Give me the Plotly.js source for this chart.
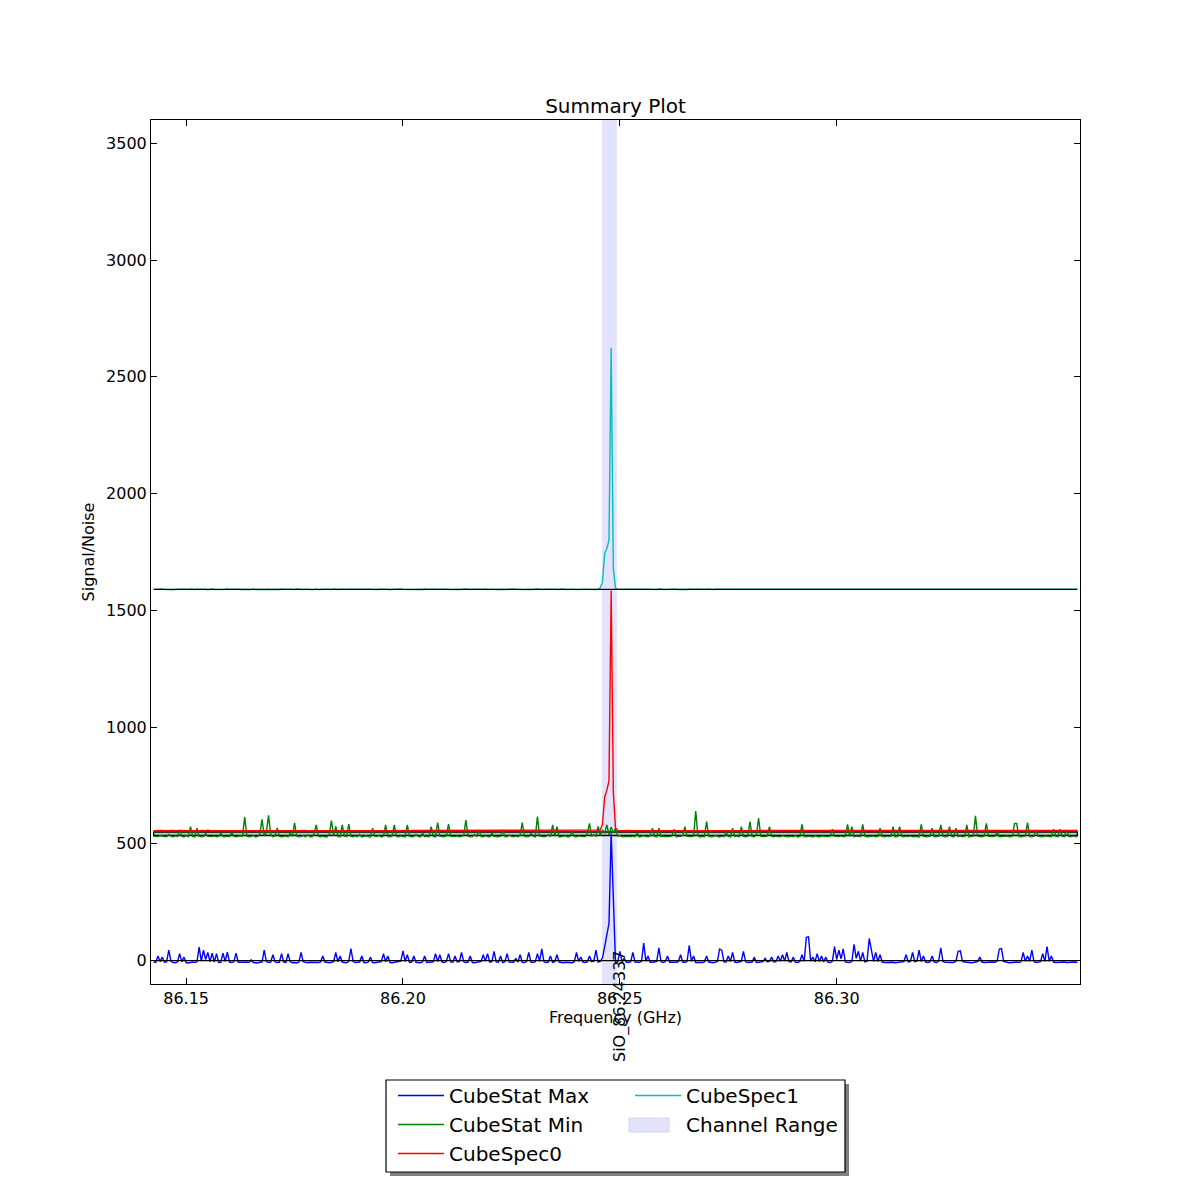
<!DOCTYPE html>
<html><head><meta charset="utf-8">
<script src="https://cdn.plot.ly/plotly-3.0.1.min.js"></script>
<style>body{margin:0;background:#fff}</style>
</head><body><div id="chart" style="width:1200px;height:1200px"></div>
<script>
// ---- data ----
const FREQ_START = 86.1425;      // GHz, first channel
const CHANNEL_WIDTH = 0.0005;    // GHz per channel
const CHANNEL_RANGE = [86.2459, 86.2493];
const LINE_LABEL = "SiO_86.24337";
const ZERO_LEVEL = 0;
const NOISE_LOW = 536;
const NOISE_HIGH = 551;
const SPEC1_LEVEL = 1590;

const CUBESTAT_MAX = [
-6,-8,20,-4,15,-7,-5,45,-3,-8,-9,-6,30,-5,15,-8,-10,-7,-6,-8,
-5,58,-2,45,5,35,-4,32,-6,30,-8,-7,32,-3,36,-6,-8,-5,32,-7,
-8,-9,-7,-6,-8,3,-8,-9,-10,-7,-6,45,-4,-8,-6,25,-5,-8,-7,30,
-6,-8,30,-5,-9,-8,-10,-6,35,-4,-8,-9,-7,-8,-6,-9,-8,-5,20,-6,
-8,-9,-7,-4,35,-5,20,-6,-8,-9,-3,52,-4,-8,-7,-6,20,-8,-9,-6,
15,-8,-9,-7,-6,-4,30,-5,20,-8,-9,-7,-8,-6,-2,42,-3,25,-8,-6,
20,-7,-8,-9,-6,20,-8,-7,-8,-5,30,-4,25,-6,-8,-4,30,-5,-7,20,
-6,-4,35,-5,-8,-6,20,-8,-9,-7,-8,-3,25,-2,30,-6,-4,40,-5,-7,
20,-8,-5,30,-6,-8,-7,10,-6,25,-7,-8,-4,35,-6,-8,-5,30,-3,50,
-5,-8,-6,20,-7,-4,25,-6,-8,-9,-7,-8,-6,-9,-5,35,-3,15,-6,-8,
-5,20,-4,-2,45,-6,-3,12,60,110,160,545,250,-5,-6,40,-4,10,-6,-8,
-5,35,-6,-8,-7,-3,75,-2,20,-7,-8,-6,-3,55,-5,-8,-4,20,-7,-8,
-9,-7,-4,25,-6,-8,-3,65,-2,20,-8,-9,-7,-8,-5,20,-6,-8,-9,-7,
-4,50,45,-5,-6,20,-4,35,-6,-8,-7,-3,40,-5,-8,-7,-6,15,-8,-7,
-6,-4,10,-5,-3,15,-6,-4,20,-3,25,-2,35,-4,-6,15,-7,-8,-4,25,
-3,100,102,-2,15,-5,30,-4,20,-6,15,-7,-8,-3,60,5,45,8,50,-5,
-7,-8,-3,70,10,40,-2,35,-5,-2,95,50,-3,35,-4,25,-6,-8,-7,-9,
-8,-7,-9,-8,-6,-8,-4,25,-5,-3,35,-4,-2,45,-4,20,-6,-8,-5,20,
-6,-8,-3,55,-4,-7,-8,-9,-7,-8,-2,40,42,-3,-6,-8,-7,-9,-8,-6,
-4,15,-6,-8,-7,-9,-8,-6,-7,-2,50,52,-3,-7,-8,-9,-7,-8,-6,-8,
-4,35,-3,20,-2,45,-5,-8,-7,-4,30,-3,60,-2,20,-6,-8,-7,-9,-8,
-6,-8,-7,-9,-8,-6,-8
];

const CUBESTAT_MIN = [
532,530,531,535,533,530,531,540,532,530,534,531,560,533,530,536,531,574,532,530,
567,533,530,531,545,532,530,531,534,530,532,545,531,530,533,531,548,532,530,531,
535,532,615,533,530,531,536,530,532,544,605,534,548,622,540,531,534,568,532,530,
531,534,530,545,532,590,533,530,531,536,530,538,531,530,545,581,532,530,533,531,
530,540,600,535,575,532,530,581,533,531,585,532,530,534,531,540,530,532,535,531,
530,567,532,531,536,530,533,581,531,530,535,581,532,530,534,531,530,581,533,530,
531,540,532,530,545,531,533,530,574,532,530,591,533,531,530,535,585,532,530,531,
534,530,532,536,602,533,530,531,540,532,560,531,530,535,531,530,546,532,531,530,
533,560,531,530,538,532,530,534,531,536,591,532,530,531,545,533,530,617,534,531,
530,532,540,531,581,533,574,530,532,531,535,530,532,553,531,530,534,532,530,531,
545,588,532,540,533,575,536,560,545,581,540,572,548,565,533,536,530,531,534,532,
530,533,531,545,530,532,535,531,530,534,567,532,530,567,531,533,530,532,531,534,
563,531,530,532,536,574,532,530,531,533,641,535,530,532,531,595,533,530,531,536,
532,530,533,531,553,532,530,567,531,534,530,574,532,530,533,595,531,530,540,610,
532,530,531,534,574,532,530,533,531,530,535,532,531,530,533,531,536,530,532,584,
531,530,533,532,530,535,531,530,534,532,530,531,533,563,532,530,531,534,530,532,
584,531,574,530,533,532,531,584,533,530,532,531,534,530,532,567,531,530,533,531,
532,574,530,531,574,532,530,533,531,534,530,532,531,530,584,532,531,530,533,567,
531,530,532,581,533,530,531,574,532,530,567,531,534,530,532,581,530,531,533,620,
532,531,530,534,588,532,530,531,533,553,531,530,532,534,531,530,533,588,588,531,
530,532,534,591,531,530,533,560,532,531,530,534,532,530,531,563,533,530,563,532,
531,560,532,530,534,531,530
];

const CUBESPEC0 = [
557,558,556,557,558,557,556,557,558,557,556,557,558,557,556,558,557,557,556,558,
557,556,558,557,557,559,557,556,557,558,557,556,557,558,557,557,556,558,557,556,
558,557,556,557,558,557,557,556,558,557,556,557,559,557,556,557,558,557,556,557,
557,558,557,556,557,558,557,556,557,557,558,556,557,558,557,556,557,558,557,557,
556,557,558,557,556,557,558,557,557,556,558,557,556,557,558,557,556,557,558,557,
557,556,557,558,557,556,558,557,557,556,557,558,557,556,557,558,557,556,557,558,
558,557,556,557,557,558,556,557,558,557,556,557,558,557,557,556,558,557,556,557,
557,558,557,556,557,558,557,557,556,558,557,556,557,558,557,556,557,557,558,556,
557,556,558,557,556,557,558,557,556,557,558,557,557,556,558,557,556,557,558,557,
556,557,558,557,557,556,558,557,556,557,558,557,556,557,558,557,557,556,558,557,
557,556,558,557,558,557,559,585,700,730,770,1585,720,568,558,557,556,557,558,557,
557,558,556,557,558,557,556,557,558,557,556,557,558,557,556,558,557,557,556,558,
556,557,558,557,556,557,558,557,557,556,558,557,556,557,558,557,556,557,558,557,
557,556,557,558,557,556,558,557,557,556,557,558,557,556,557,558,557,556,557,558,
558,557,556,557,557,558,556,557,558,557,556,557,558,557,557,556,558,557,556,557,
557,558,557,556,557,558,557,557,556,558,557,556,557,558,557,556,557,557,558,556,
557,556,558,557,556,557,558,557,556,557,558,557,557,556,558,557,556,557,558,557,
556,557,558,557,557,556,558,557,556,557,558,557,556,557,558,557,557,556,558,557,
557,558,556,557,558,557,556,557,558,557,556,557,558,557,556,558,557,557,556,558,
557,556,558,557,557,559,557,556,557,558,557,556,557,558,557,557,556,558,557,556,
558,557,556,557,558,557,557,556,558,557,556,557,559,557,556,557,558,557,556,557,
557,556,558,557,556,557,558
];

const CUBESPEC1 = [
1590,1591,1589,1590,1592,1590,1589,1591,1590,1588,1590,1591,1589,1590,1591,1590,1589,1592,1590,1589,
1591,1590,1589,1590,1591,1588,1590,1592,1590,1589,1591,1590,1589,1590,1592,1590,1591,1589,1590,1591,
1589,1590,1591,1590,1588,1590,1591,1589,1590,1592,1590,1589,1591,1590,1589,1590,1591,1590,1589,1592,
1590,1589,1590,1591,1590,1589,1592,1590,1591,1589,1590,1591,1590,1588,1590,1591,1589,1590,1591,1590,
1591,1590,1589,1592,1590,1589,1591,1590,1589,1590,1591,1590,1592,1589,1590,1591,1590,1589,1590,1591,
1590,1592,1590,1589,1591,1590,1589,1590,1591,1588,1590,1591,1589,1590,1592,1590,1589,1591,1590,1589,
1589,1590,1591,1590,1589,1592,1590,1591,1589,1590,1591,1590,1589,1590,1591,1592,1590,1589,1590,1591,
1590,1589,1591,1590,1592,1590,1589,1590,1591,1590,1589,1591,1590,1592,1589,1590,1591,1590,1589,1590,
1591,1590,1589,1590,1591,1589,1592,1590,1591,1590,1589,1590,1591,1590,1589,1591,1590,1592,1590,1589,
1590,1591,1590,1589,1590,1591,1590,1589,1592,1590,1591,1589,1590,1591,1590,1589,1590,1591,1592,1590,
1590,1589,1591,1590,1589,1591,1597,1622,1745,1765,1800,2625,1680,1596,1591,1590,1589,1590,1591,1590,
1589,1590,1591,1590,1592,1589,1590,1591,1590,1589,1591,1590,1589,1592,1590,1591,1589,1590,1591,1590,
1590,1591,1589,1590,1591,1590,1589,1592,1590,1591,1589,1590,1591,1590,1589,1590,1592,1590,1589,1591,
1591,1590,1589,1591,1590,1592,1590,1589,1590,1591,1590,1589,1591,1590,1592,1590,1589,1590,1591,1590,
1590,1589,1592,1590,1591,1590,1589,1590,1591,1589,1590,1592,1590,1589,1591,1590,1591,1589,1590,1591,
1589,1590,1591,1590,1589,1591,1590,1592,1590,1589,1590,1591,1590,1589,1591,1590,1589,1592,1590,1590,
1591,1590,1589,1590,1592,1590,1591,1589,1590,1591,1590,1589,1590,1592,1590,1591,1589,1590,1591,1590,
1590,1592,1590,1589,1591,1590,1589,1590,1591,1590,1592,1589,1590,1591,1590,1589,1590,1591,1590,1589,
1589,1590,1591,1590,1589,1590,1592,1590,1591,1589,1590,1591,1590,1589,1592,1590,1591,1590,1589,1590,
1591,1589,1590,1592,1590,1591,1590,1589,1590,1591,1589,1590,1592,1590,1591,1590,1589,1590,1591,1590,
1590,1591,1589,1590,1591,1590,1592,1589,1590,1591,1590,1589,1590,1591,1592,1590,1589,1590,1591,1589,
1590,1591,1590,1589,1592,1590,1591
];

const X_TICKS = [86.15, 86.20, 86.25, 86.30];
const Y_TICKS = [0, 500, 1000, 1500, 2000, 2500, 3000, 3500];

// ---- figure geometry (pixels in the 1200x1200 page) ----
const L = 151, R = 1080, T = 120, B = 984;
const px = v => (v - L) / (R - L);
const py = v => (B - v) / (B - T);

const freq = CUBESTAT_MAX.map((_, i) => FREQ_START + i * CHANNEL_WIDTH);
const fLast = freq[freq.length - 1];
const FONT = "DejaVu Sans, Liberation Sans, sans-serif";
const RANGE_FILL = '#e3e3fb';

function line(name, y, color, legend) {
  return {x: freq, y: y, type: 'scatter', mode: 'lines', name: name,
    line: {color: color, width: 1.4}, legend: legend, hoverinfo: 'x+y'};
}

const traces = [
  line('CubeStat Max', CUBESTAT_MAX, '#0000ff', 'legend'),
  line('CubeStat Min', CUBESTAT_MIN, '#008000', 'legend'),
  line('CubeSpec0', CUBESPEC0, '#ff0000', 'legend'),
  line('CubeSpec1', CUBESPEC1, '#00bfbf', 'legend2')
];

const shapes = [
  {type: 'rect', xref: 'x', yref: 'paper', x0: CHANNEL_RANGE[0], x1: CHANNEL_RANGE[1], y0: 0, y1: 1,
   fillcolor: RANGE_FILL, line: {width: 0}, layer: 'below',
   showlegend: true, name: 'Channel Range', legend: 'legend2'},
  {type: 'rect', xref: 'x', yref: 'y', x0: freq[0], x1: fLast, y0: NOISE_LOW, y1: NOISE_HIGH,
   fillcolor: '#c8c8c8', line: {color: '#000', width: 1.3}, layer: 'below'},
  {type: 'line', xref: 'x', yref: 'y', x0: freq[0], x1: fLast, y0: ZERO_LEVEL, y1: ZERO_LEVEL,
   line: {color: '#000', width: 1.3}, layer: 'above'},
  {type: 'line', xref: 'x', yref: 'y', x0: freq[0], x1: fLast, y0: SPEC1_LEVEL, y1: SPEC1_LEVEL,
   line: {color: '#000', width: 1.3}, layer: 'above'},
  // legend frame with shadow
  {type: 'rect', xref: 'paper', yref: 'paper', x0: px(390), x1: px(849), y0: py(1084), y1: py(1176),
   fillcolor: '#808080', line: {width: 0}, layer: 'above'},
  {type: 'rect', xref: 'paper', yref: 'paper', x0: px(386), x1: px(845), y0: py(1080), y1: py(1172),
   fillcolor: '#ffffff', line: {color: '#000', width: 1.2}, layer: 'above'},
  // wide swatch behind the Channel Range legend symbol
  {type: 'rect', xref: 'paper', yref: 'paper', x0: px(629), x1: px(669), y0: py(1118), y1: py(1132),
   fillcolor: RANGE_FILL, line: {color: '#d4d4f0', width: 1}, layer: 'above'}
];

const axisCommon = {
  showline: true, linecolor: '#000', linewidth: 1, mirror: 'ticks',
  ticks: 'inside', ticklen: 6, tickcolor: '#000', tickwidth: 1,
  showgrid: false, zeroline: false,
  tickfont: {family: FONT, size: 16, color: '#000'}
};

const layout = {
  width: 1200, height: 1200,
  paper_bgcolor: '#fff', plot_bgcolor: '#fff',
  margin: {l: L, r: 1200 - R, t: T, b: 1200 - B},
  font: {family: FONT, color: '#000'},
  title: {text: 'Summary Plot', font: {family: FONT, size: 20, color: '#000'},
          x: 0.5, xref: 'paper', xanchor: 'center', y: 1 - 106 / 1200, yanchor: 'middle'},
  xaxis: Object.assign({}, axisCommon, {
    range: [FREQ_START - 0.0006, fLast + 0.0006],
    tickvals: X_TICKS, ticktext: X_TICKS.map(v => v.toFixed(2)),
    title: {text: 'Frequency (GHz)', font: {family: FONT, size: 16, color: '#000'}, standoff: 0}
  }),
  yaxis: Object.assign({}, axisCommon, {
    range: [-100, 3600],
    tickvals: Y_TICKS, ticktext: Y_TICKS.map(String),
    title: {text: 'Signal/Noise', font: {family: FONT, size: 16, color: '#000'}, standoff: 7}
  }),
  showlegend: true,
  legend: {x: px(393), xanchor: 'left', y: py(1076), yanchor: 'top', orientation: 'v',
    bgcolor: 'rgba(0,0,0,0)', borderwidth: 0, font: {family: FONT, size: 20, color: '#000'},
    itemwidth: 46, tracegroupgap: 0},
  legend2: {x: px(630), xanchor: 'left', y: py(1076), yanchor: 'top', orientation: 'v',
    bgcolor: 'rgba(0,0,0,0)', borderwidth: 0, font: {family: FONT, size: 20, color: '#000'},
    itemwidth: 46, tracegroupgap: 0},
  shapes: shapes,
  annotations: [
    {text: LINE_LABEL, xref: 'paper', yref: 'paper', x: px(620), y: py(1006),
     xanchor: 'center', yanchor: 'middle', textangle: -90, showarrow: false,
     font: {family: FONT, size: 16, color: '#000'}}
  ]
};

Plotly.newPlot('chart', traces, layout, {displayModeBar: false, staticPlot: true});
</script>
</body></html>
